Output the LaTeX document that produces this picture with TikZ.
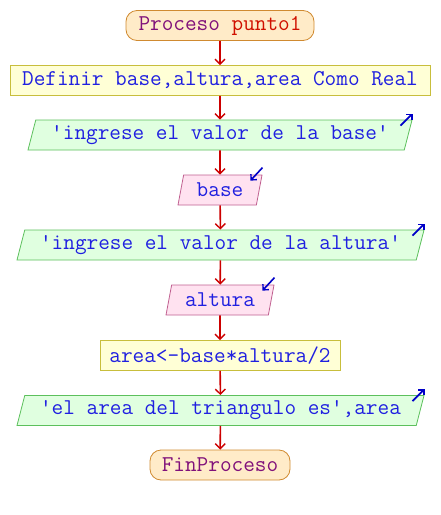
\documentclass[tikz,border=0pt]{standalone}
\usepackage{fontspec}
\usetikzlibrary{shapes.geometric,arrows.meta}
\definecolor{txtblue}{HTML}{2020E0}
\definecolor{iconblue}{HTML}{0000C8}
\definecolor{flowred}{HTML}{CC0000}
\definecolor{termfill}{HTML}{FFEBC8}
\definecolor{termdraw}{HTML}{D08A30}
\definecolor{procfill}{HTML}{FFFFD6}
\definecolor{procdraw}{HTML}{C8BE3C}
\definecolor{outfill}{HTML}{E0FFE0}
\definecolor{outdraw}{HTML}{5CC05C}
\definecolor{infill}{HTML}{FFE2F0}
\definecolor{indraw}{HTML}{C06090}
\definecolor{kwpurple}{HTML}{80107A}
\definecolor{namered}{HTML}{D01000}
\tikzset{
  x=1pt, y=-1pt,
  base text/.style={font=\ttfamily\fontsize{22.6}{26}\selectfont, text=txtblue, inner sep=0pt, minimum height=30pt, line width=0.8pt},
  term/.style={base text, draw=termdraw, fill=termfill, rounded corners=11pt},
  proc/.style={base text, draw=procdraw, fill=procfill},
  io/.style={base text, trapezium, trapezium left angle=68, trapezium right angle=112, trapezium stretches body},
  outbox/.style={io, draw=outdraw, fill=outfill},
  inbox/.style={io, draw=indraw, fill=infill},
  flow/.style={draw=flowred, line width=1.6pt, -{Straight Barb[length=5pt,width=10pt,line width=1.4pt]}},
  icon/.style={draw=iconblue, line width=1.6pt, -{Straight Barb[length=4pt,width=8pt,line width=1.4pt]}}
}
\begin{document}
\begin{tikzpicture}
\useasboundingbox (0,0) rectangle (440,515);
\node[term, minimum width=188pt] (start) at (220,25.5) {\textcolor{kwpurple}{Proceso} \textcolor{namered}{punto1}};
\node[proc, minimum width=420pt] (def) at (220,80.5) {Definir base,altura,area Como Real};
\node[outbox, minimum width=384pt] (out1) at (220,135) {'ingrese el valor de la base'};
\node[inbox, minimum width=84pt] (inbase) at (220,190) {base};
\node[outbox, minimum width=407pt] (out2) at (220.5,245) {'ingrese el valor de la altura'};
\node[inbox, minimum width=108pt] (inalt) at (220,300) {altura};
\node[proc, minimum width=240pt] (assign) at (220,355.5) {area<-base*altura/2};
\node[outbox, minimum width=407pt] (out3) at (220.5,410.5) {'el area del triangulo es',area};
\node[term, minimum width=140pt] (end) at (220,465) {\textcolor{kwpurple}{FinProceso}};

\draw[flow] (start) -- (def);
\draw[flow] (def) -- (out1);
\draw[flow] (out1) -- (inbase);
\draw[flow] (inbase) -- (out2);
\draw[flow] (out2) -- (inalt);
\draw[flow] (inalt) -- (assign);
\draw[flow] (assign) -- (out3);
\draw[flow] (out3) -- (end);

\foreach \n in {out1,out2,out3}{
  \coordinate (\n-t) at ([shift={(-12,6)}]\n.top right corner);
  \coordinate (\n-h) at ([shift={(0,-6)}]\n.top right corner);
  \draw[icon] (\n-t) -- (\n-h);
}
\foreach \n in {inbase,inalt}{
  \coordinate (\n-t) at ([shift={(0,-7)}]\n.top right corner);
  \coordinate (\n-h) at ([shift={(-12,6)}]\n.top right corner);
  \draw[icon] (\n-t) -- (\n-h);
}
\end{tikzpicture}
\end{document}
